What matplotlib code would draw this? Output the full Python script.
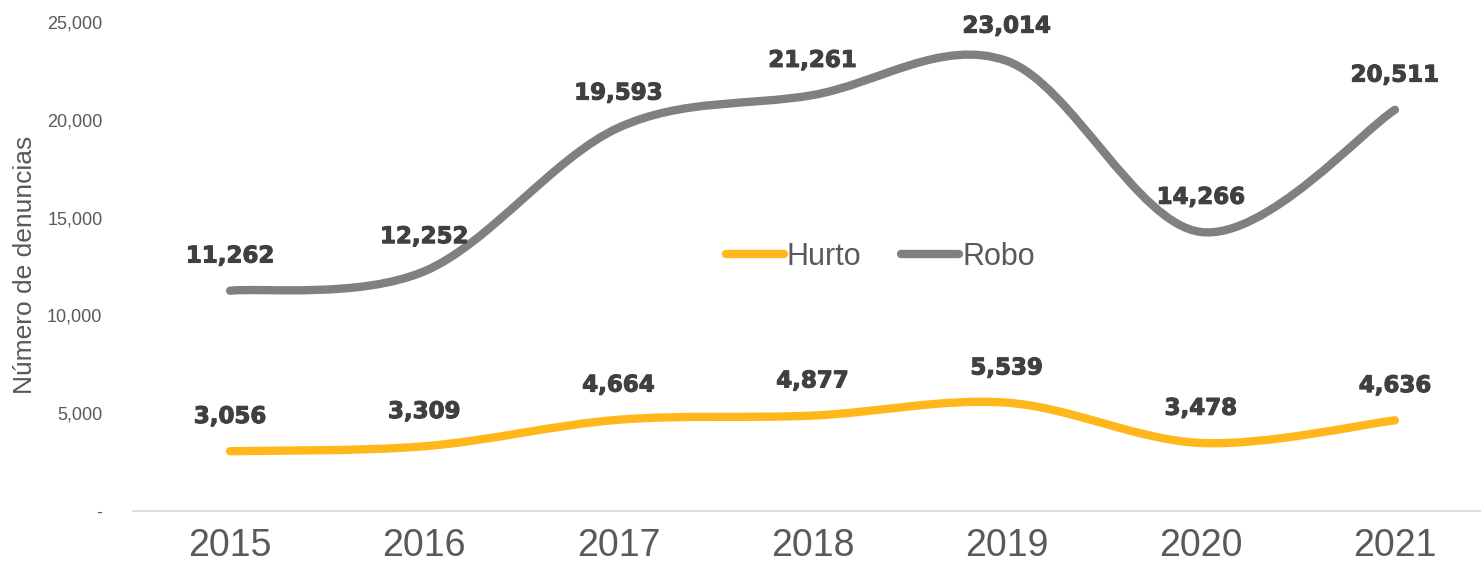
import numpy as np
import matplotlib
matplotlib.use("Agg")
import matplotlib.pyplot as plt
import matplotlib.patheffects as pe
from matplotlib.path import Path
from matplotlib.patches import PathPatch
from matplotlib.lines import Line2D
from matplotlib.ticker import FuncFormatter

# ── Data ─────────────────────────────────────────
years = ["2015", "2016", "2017", "2018", "2019", "2020", "2021"]
hurto = [3056, 3309, 4664, 4877, 5539, 3478, 4636]
robo = [11262, 12252, 19593, 21261, 23014, 14266, 20511]

C_HURTO = "#FFB71B"
C_ROBO = "#808080"
C_TEXT = "#595959"
C_LABEL = "#404040"

plt.rcParams["font.family"] = ["Liberation Sans", "DejaVu Sans"]


def smooth_path(xs, ys, t=1 / 6):
    # Excel-like smoothed line: cubic Bezier through every point
    xs = np.asarray(xs, float); ys = np.asarray(ys, float)
    n = len(xs)
    verts = [(xs[0], ys[0])]
    codes = [Path.MOVETO]
    for i in range(n - 1):
        p0 = i - 1 if i > 0 else i
        p3 = i + 2 if i + 2 < n else i + 1
        c1 = (xs[i] + (xs[i + 1] - xs[p0]) * t, ys[i] + (ys[i + 1] - ys[p0]) * t)
        c2 = (xs[i + 1] - (xs[p3] - xs[i]) * t, ys[i + 1] - (ys[p3] - ys[i]) * t)
        verts += [c1, c2, (xs[i + 1], ys[i + 1])]
        codes += [Path.CURVE4] * 3
    return Path(verts, codes)


fig = plt.figure(figsize=(14.81, 5.70), dpi=100)
ax = fig.add_axes([133 / 1481, 1 - 511 / 570, (1492 - 133) / 1481, (511 - 22) / 570])

x = np.arange(len(years))
for vals, col in [(hurto, C_HURTO), (robo, C_ROBO)]:
    patch = PathPatch(smooth_path(x, vals), facecolor="none", edgecolor=col,
                      lw=6, capstyle="round", joinstyle="round")
    ax.add_patch(patch)
    for xi, v in zip(x, vals):
        ax.annotate(f"{v:,}", (xi, v), xytext=(0, 25), textcoords="offset points",
                    ha="center", va="center", fontsize=16.5, fontweight="bold",
                    color=C_LABEL, family="DejaVu Sans",
                    path_effects=[pe.withStroke(linewidth=0.8, foreground=C_LABEL)])

ax.set_xlim(-0.5, len(years) - 0.5)
ax.set_ylim(0, 25000)
ax.set_xticks(x)
ax.set_xticklabels(years, fontsize=27, color=C_TEXT)
ax.set_yticks(np.arange(0, 25001, 5000))
ax.yaxis.set_major_formatter(FuncFormatter(lambda v, _: "-" if v == 0 else f"{v:,.0f}"))
ax.tick_params(axis="y", length=0, labelsize=13, labelcolor=C_TEXT, pad=22)
ax.tick_params(axis="x", length=0, pad=12)

for s in ["top", "right", "left"]:
    ax.spines[s].set_visible(False)
ax.spines["bottom"].set_color("#D9D9D9")
ax.spines["bottom"].set_linewidth(1.2)

fig.text(25 / 1481, 1 - 265 / 570, "Número de denuncias", rotation=90,
         ha="center", va="center", fontsize=19, color=C_TEXT)

handles = [Line2D([], [], color=C_HURTO, lw=6, solid_capstyle="round"),
           Line2D([], [], color=C_ROBO, lw=6, solid_capstyle="round")]
leg = ax.legend(handles, ["Hurto", "Robo"], loc="center", bbox_to_anchor=(0.55, 0.52),
                ncol=2, frameon=False, fontsize=22, handlelength=1.9,
                handletextpad=0.1, columnspacing=1.3)
for txt in leg.get_texts():
    txt.set_color(C_TEXT)

fig.savefig("out.png", dpi=100)
